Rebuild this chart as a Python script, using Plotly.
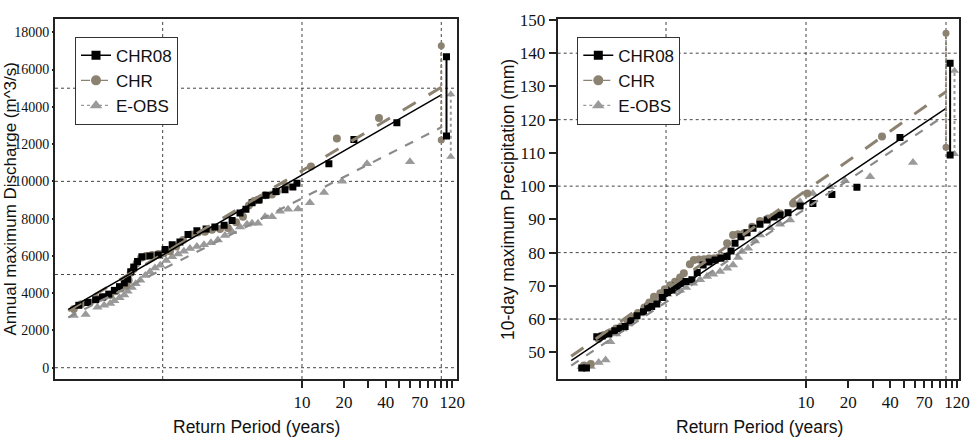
import plotly.graph_objects as go

# ---------------- data: left panel (annual maximum discharge, m^3/s) ----------------
dis_chr08_T = [0.25, 0.29, 0.33, 0.37, 0.41, 0.45, 0.49, 0.53, 0.56, 0.59,
               0.62, 0.66, 0.71, 0.81, 0.93, 1.04, 1.17, 1.33, 1.52, 1.76,
               2.05, 2.37, 2.76, 3.15, 3.59, 3.96, 4.38, 4.91, 5.52, 6.5,
               7.55, 8.6, 9.2, 15.6, 23.6, 48]
dis_chr08_Q = [3350, 3500, 3650, 3800, 3950, 4150, 4350, 4550, 4750, 5150,
               5400, 5700, 5950, 6000, 6050, 6350, 6600, 6750, 7150, 7350,
               7450, 7550, 7650, 7900, 8300, 8500, 8850, 9000, 9250, 9450,
               9550, 9700, 9900, 10950, 12250, 13150]
dis_chr_T = [0.23, 0.26, 0.30, 0.34, 0.38, 0.42, 0.46, 0.50, 0.55, 0.57,
             0.59, 0.62, 0.65, 0.70, 0.76, 0.84, 0.93, 1.02, 1.13, 1.25,
             1.40, 1.60, 1.79, 2.01, 2.26, 2.58, 2.94, 3.36, 3.77, 4.16,
             4.52, 4.91, 5.43, 6.09, 6.61, 7.68, 11.6, 17.8, 35.7]
dis_chr_Q = [3150, 3400, 3500, 3700, 3800, 3900, 4100, 4250, 4400, 4700,
             5100, 5300, 5600, 5900, 6000, 6050, 6100, 6150, 6250, 6500,
             6850, 7150, 7250, 7300, 7400, 7450, 7500, 7800, 8100, 8700,
             8950, 9000, 9250, 9300, 9450, 9750, 10800, 12300, 13400]
dis_eobs_T = [0.23, 0.28, 0.34, 0.38, 0.42, 0.45, 0.49, 0.53, 0.56, 0.60,
              0.64, 0.69, 0.75, 0.81, 0.88, 0.96, 1.06, 1.17, 1.29, 1.42,
              1.57, 1.76, 1.98, 2.22, 2.49, 2.80, 3.15, 3.59, 4.03, 4.38,
              4.83, 5.43, 6.09, 6.95, 7.94, 9.36, 11.4, 14.4, 19.4, 29.3,
              59.6]
dis_eobs_Q = [2800, 2850, 3250, 3350, 3450, 3600, 3750, 3900, 4100, 4300,
              4500, 4700, 4950, 5150, 5350, 5500, 5750, 5950, 6100, 6250,
              6400, 6500, 6600, 6700, 6850, 7100, 7300, 7550, 7700, 7750,
              7750, 8100, 8100, 8400, 8500, 8520, 8850, 9400, 10000, 10950,
              11050]
# fitted lines (start / end) and confidence ranges at the right edge
dis_fit_T = [0.21, 100]
dis_fit_chr08 = [3130, 14640]
dis_fit_chr = [3060, 15050]
dis_fit_eobs = [2700, 12900]
dis_ci_chr08_T, dis_ci_chr08 = 109, [12430, 16690]
dis_ci_chr_T, dis_ci_chr = 100, [12220, 17280]
dis_ci_eobs_T, dis_ci_eobs = 117, [11320, 14670]

# ---------------- data: right panel (10-day maximum precipitation, mm) ----------------
pr_chr08_T = [0.25, 0.27, 0.32, 0.35, 0.39, 0.43, 0.47, 0.51, 0.56, 0.62,
              0.69, 0.74, 0.79, 0.86, 0.94, 1.02, 1.10, 1.18, 1.26, 1.39,
              1.53, 1.67, 1.84, 2.03, 2.24, 2.47, 2.73, 2.91, 3.11, 3.43,
              3.79, 4.18, 4.69, 5.27, 5.91, 6.52, 7.44, 9.06, 11.2, 15.3,
              23.1, 46.9]
pr_chr08_P = [45.3, 45.3, 54.7, 54.9, 55.5, 56.5, 57.2, 57.8, 59.5, 61,
              62.2, 63.3, 63.8, 64.5, 66.5, 68, 68.8, 70, 70.8, 71.3,
              71.8, 74, 76.3, 77.2, 77.8, 78.3, 78.8, 80.5, 82.8, 84.8,
              86, 87.3, 88.5, 89.8, 90.7, 91.3, 92, 94, 94.8, 97.5,
              99.7, 114.6]
pr_chr_T = [0.26, 0.29, 0.33, 0.36, 0.40, 0.44, 0.48, 0.53, 0.57, 0.63,
            0.70, 0.76, 0.82, 0.91, 0.98, 1.07, 1.16, 1.26, 1.34, 1.48,
            1.58, 1.72, 1.87, 2.03, 2.20, 2.39, 2.60, 2.73, 3.01, 3.27,
            3.61, 4.12, 4.69, 5.35, 6.52, 8.08, 10.2, 34.9]
pr_chr_P = [46, 46.5, 54, 55.2, 56, 57.2, 57.8, 59.5, 60.5, 61.8,
            63.5, 65, 66.7, 67.8, 69, 70.2, 71.2, 72.5, 73.8, 76.5,
            77.8, 77.9, 78, 78.2, 78.3, 78.6, 78.8, 82.8, 85.3, 85.5,
            85.8, 87.8, 89.5, 90.3, 91.8, 94.8, 97.8, 114.9]
pr_eobs_T = [0.25, 0.29, 0.33, 0.37, 0.40, 0.44, 0.49, 0.54, 0.59, 0.65,
             0.72, 0.79, 0.86, 0.92, 1.02, 1.12, 1.26, 1.39, 1.56, 1.75,
             1.96, 2.17, 2.43, 2.73, 3.01, 3.27, 3.49, 3.85, 4.32, 4.69,
             5.53, 6.52, 7.69, 9.06, 11.2, 14.8, 19.0, 28.7, 58.1]
pr_eobs_P = [45.7, 45.7, 46.9, 47.7, 53.2, 55.5, 57, 58.5, 60, 61.5,
             63, 64.5, 65.5, 66.7, 67.5, 68.2, 68.7, 69.5, 70.8, 71.8,
             72.8, 73.5, 74.3, 75.3, 76.3, 78.5, 80.3, 81.3, 83.5, 85.3,
             87.5, 88.5, 89.8, 95.3, 97.8, 99.8, 101.6, 102.8, 107.1]
pr_fit_T = [0.21, 100]
pr_fit_chr08 = [47.5, 123.4]
pr_fit_chr = [48.8, 128.4]
pr_fit_eobs = [46.0, 121.5]
pr_ci_chr08_T, pr_ci_chr08 = 107, [109.4, 137.0]
pr_ci_chr_T, pr_ci_chr = 100, [111.7, 146.0]
pr_ci_eobs_T, pr_ci_eobs = 115, [109.7, 134.7]

# ticks
x_tick_vals = [10, 20, 30, 40, 50, 60, 70, 80, 90, 100, 110, 120]
x_tick_text = ["10", "20", "", "40", "", "", "70", "", "", "", "", "120"]
x_grid_T = [1, 10, 100]
dis_grid = [0, 5000, 10000, 15000]
pr_grid = [60, 80, 100, 120, 140]
series_names = ["CHR08", "CHR", "E-OBS"]

# ---------------- styles ----------------
C_BLACK = "#000000"
C_TAN = "#8c8271"
C_GRAY = "#9a9a9a"
C_GRAYLINE = "#8a8a8a"
SANS = "Liberation Sans"
SERIF = "Times New Roman, Liberation Serif, serif"

fig = go.Figure()


def add_panel(xa, ya, leg, pts, fits, fitT, cis):
    (t08, v08), (tc, vc), (te, ve) = pts
    fig.add_trace(go.Scatter(x=te, y=ve, mode="markers", xaxis=xa, yaxis=ya, showlegend=False,
                             marker=dict(symbol="triangle-up", size=9, color=C_GRAY)))
    fig.add_trace(go.Scatter(x=tc, y=vc, mode="markers", xaxis=xa, yaxis=ya, showlegend=False,
                             marker=dict(symbol="circle", size=8, color=C_TAN)))
    fig.add_trace(go.Scatter(x=t08, y=v08, mode="markers", xaxis=xa, yaxis=ya, showlegend=False,
                             marker=dict(symbol="square", size=7, color=C_BLACK)))
    f08, fc, fe = fits
    fig.add_trace(go.Scatter(x=fitT, y=fe, mode="lines", xaxis=xa, yaxis=ya, showlegend=False,
                             line=dict(color=C_GRAYLINE, width=2.2, dash="dash")))
    fig.add_trace(go.Scatter(x=fitT, y=fc, mode="lines", xaxis=xa, yaxis=ya, showlegend=False,
                             line=dict(color=C_TAN, width=3, dash="longdash")))
    fig.add_trace(go.Scatter(x=fitT, y=f08, mode="lines", xaxis=xa, yaxis=ya, showlegend=False,
                             line=dict(color=C_BLACK, width=1.5)))
    (c08T, c08), (ccT, cc), (ceT, ce) = cis
    fig.add_trace(go.Scatter(x=[ccT, ccT], y=cc, mode="lines+markers", xaxis=xa, yaxis=ya,
                             showlegend=False, line=dict(color=C_TAN, width=2, dash="dot"),
                             marker=dict(symbol="circle", size=7, color=C_TAN)))
    fig.add_trace(go.Scatter(x=[ceT, ceT], y=ce, mode="lines+markers", xaxis=xa, yaxis=ya,
                             showlegend=False, line=dict(color=C_GRAY, width=2, dash="dot"),
                             marker=dict(symbol="triangle-up", size=8, color=C_GRAY)))
    fig.add_trace(go.Scatter(x=[c08T, c08T], y=c08, mode="lines+markers", xaxis=xa, yaxis=ya,
                             showlegend=False, line=dict(color=C_BLACK, width=2),
                             marker=dict(symbol="square", size=7, color=C_BLACK)))
    styles = [
        dict(line=dict(color=C_BLACK, width=1.5), marker=dict(symbol="square", size=9, color=C_BLACK)),
        dict(line=dict(color=C_TAN, width=1.2, dash="dash"), marker=dict(symbol="circle", size=10, color=C_TAN)),
        dict(line=dict(color=C_GRAY, width=1.2, dash="dot"), marker=dict(symbol="triangle-up", size=11, color=C_GRAY)),
    ]
    for name, st in zip(series_names, styles):
        fig.add_trace(go.Scatter(x=[None], y=[None], mode="lines+markers", name=name,
                                 xaxis=xa, yaxis=ya, legend=leg, **st))


add_panel("x", "y", "legend",
          [(dis_chr08_T, dis_chr08_Q), (dis_chr_T, dis_chr_Q), (dis_eobs_T, dis_eobs_Q)],
          (dis_fit_chr08, dis_fit_chr, dis_fit_eobs), dis_fit_T,
          [(dis_ci_chr08_T, dis_ci_chr08), (dis_ci_chr_T, dis_ci_chr), (dis_ci_eobs_T, dis_ci_eobs)])
add_panel("x2", "y2", "legend2",
          [(pr_chr08_T, pr_chr08_P), (pr_chr_T, pr_chr_P), (pr_eobs_T, pr_eobs_P)],
          (pr_fit_chr08, pr_fit_chr, pr_fit_eobs), pr_fit_T,
          [(pr_ci_chr08_T, pr_ci_chr08), (pr_ci_chr_T, pr_ci_chr), (pr_ci_eobs_T, pr_ci_eobs)])

shapes = []
for xr, yr, hvals in (("x", "y", dis_grid), ("x2", "y2", pr_grid)):
    for t in x_grid_T:
        shapes.append(dict(type="line", xref=xr, yref=yr + " domain", x0=t, x1=t, y0=0, y1=1,
                           line=dict(color="#444444", width=1, dash="dot"), layer="below"))
    for v in hvals:
        shapes.append(dict(type="line", xref=xr + " domain", yref=yr, x0=0, x1=1, y0=v, y1=v,
                           line=dict(color="#444444", width=1, dash="dot"), layer="below"))

ydom = [1 - 379 / 442, 1 - 19.3 / 442]
xaxis_common = dict(type="log", tickvals=x_tick_vals, ticktext=x_tick_text, ticks="outside",
                    ticklen=7, tickwidth=1.5, tickcolor="#222", showgrid=False, zeroline=False,
                    showline=True, mirror=True, linecolor="#222", linewidth=2, automargin=False,
                    tickfont=dict(family=SERIF, size=17, color="#111"))
yaxis_common = dict(ticks="outside", tickwidth=1.5, tickcolor="#222", showgrid=False, zeroline=False,
                    showline=True, mirror=True, linecolor="#222", linewidth=2, automargin=False,
                    tickformat="d", exponentformat="none", separatethousands=False)

legend_common = dict(bgcolor="white", bordercolor="#333", borderwidth=1,
                     font=dict(family=SANS, size=17, color="#111"),
                     xanchor="left", yanchor="top", tracegroupgap=0)

title_font = dict(family=SANS, size=17.5, color="#111")
annotations = [
    dict(text="Annual maximum Discharge (m^3/s)", xref="paper", yref="paper", x=10.5 / 971, y=1 - 199 / 442,
         xanchor="center", yanchor="middle", textangle=-90, showarrow=False,
         font=dict(family=SANS, size=17, color="#111")),
    dict(text="10-day maximum Precipitation (mm)", xref="paper", yref="paper", x=508 / 971, y=1 - 199 / 442,
         xanchor="center", yanchor="middle", textangle=-90, showarrow=False, font=title_font),
    dict(text="Return Period (years)", xref="paper", yref="paper", x=256 / 971, y=1 - 427 / 442,
         xanchor="center", yanchor="middle", showarrow=False, font=title_font),
    dict(text="Return Period (years)", xref="paper", yref="paper", x=759 / 971, y=1 - 427 / 442,
         xanchor="center", yanchor="middle", showarrow=False, font=title_font),
]

fig.update_layout(
    width=971, height=442,
    margin=dict(l=0, r=0, t=0, b=0),
    paper_bgcolor="white", plot_bgcolor="white",
    xaxis=dict(domain=[55 / 971, 457.3 / 971], range=[-0.773, 2.115], anchor="y", **xaxis_common),
    yaxis=dict(domain=ydom, range=[-606, 18698], anchor="x", tick0=0, dtick=2000, ticklen=1,
               tickfont=dict(family=SERIF, size=14, color="#111"), **yaxis_common),
    xaxis2=dict(domain=[557.7 / 971, 959.3 / 971], range=[-0.774, 2.095], anchor="y2", **xaxis_common),
    yaxis2=dict(domain=ydom, range=[41.97, 150.2], anchor="x2", tick0=0, dtick=10, ticklen=7,
                tickfont=dict(family=SERIF, size=17, color="#111"), **yaxis_common),
    legend=dict(x=75 / 971, y=1 - 36.7 / 442, **legend_common),
    legend2=dict(x=577.3 / 971, y=1 - 36.7 / 442, **legend_common),
    shapes=shapes,
    annotations=annotations,
)

fig.write_html("out.html")
